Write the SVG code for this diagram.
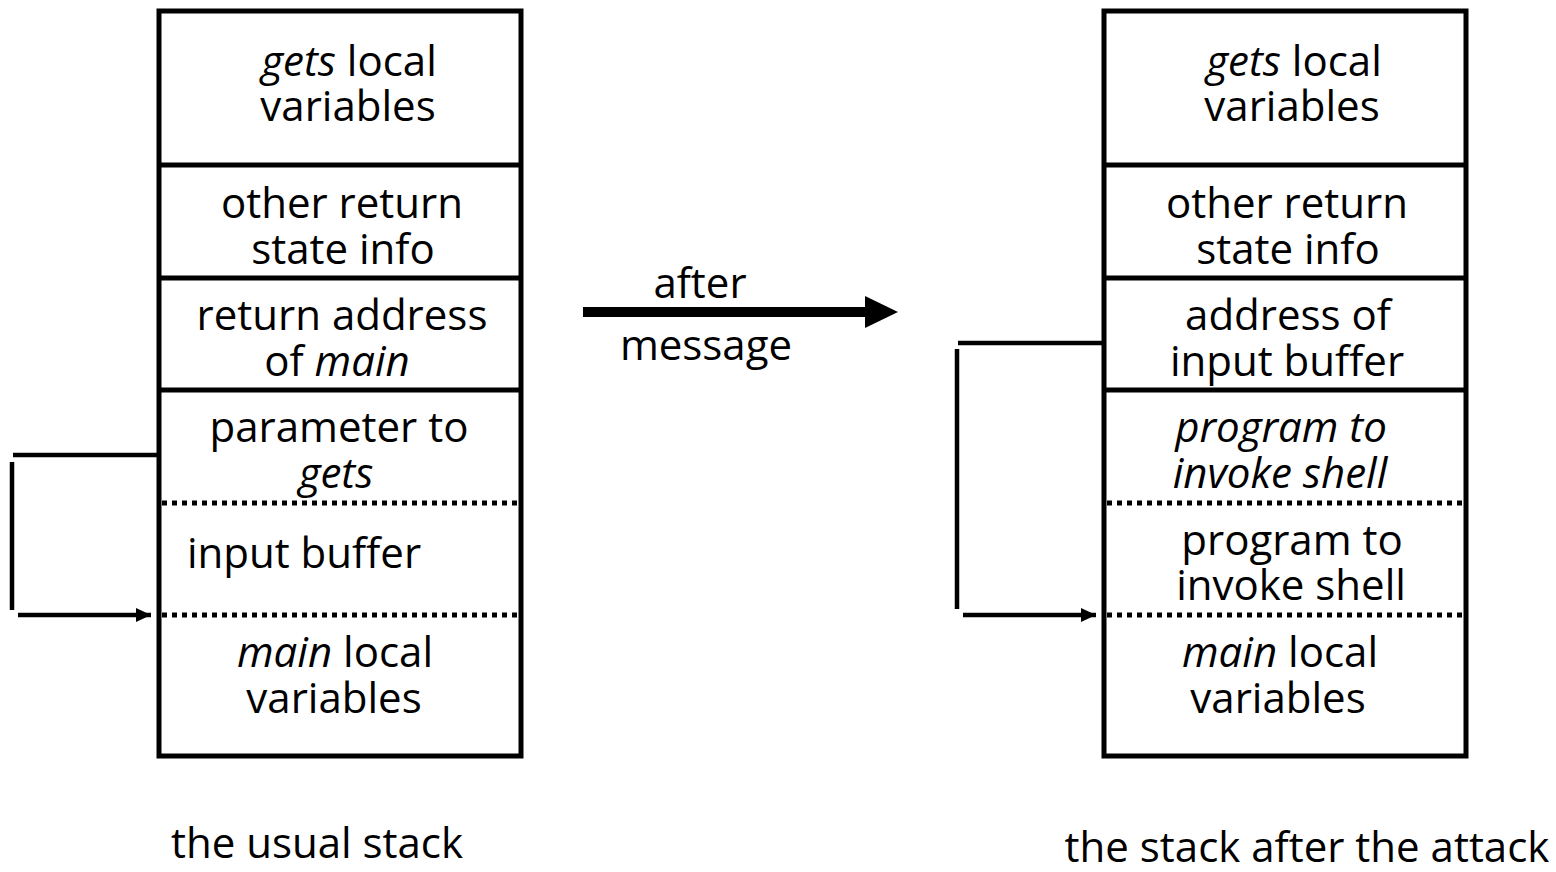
<svg xmlns="http://www.w3.org/2000/svg" width="1556" height="872" viewBox="0 0 1556 872">
  <style>
    .frame { fill: #fff; stroke: #000; stroke-width: 5; }
    .solid { stroke: #000; stroke-width: 5; }
    .dotted { stroke: #000; stroke-width: 5; stroke-dasharray: 5 5; }
    .wire { stroke: #000; stroke-width: 4.5; fill: none; }
    .lbl { font-family: "Open Sans", "Liberation Sans", sans-serif; font-size: 42px; fill: #000; text-anchor: middle; }
    .it { font-style: italic; }
  </style>
  <defs>
    <marker id="tip" markerUnits="userSpaceOnUse" markerWidth="16" markerHeight="16" refX="15" refY="7" orient="auto">
      <path d="M0,0 L15,7 L0,14 Z" fill="#000"/>
    </marker>
  </defs>
  <rect width="1556" height="872" fill="#fff"/>

  <!-- usual stack -->
  <g id="stack-usual">
    <rect class="frame" x="159" y="11" width="362" height="745"/>
    <line class="solid" x1="159" y1="165" x2="521" y2="165"/>
    <line class="solid" x1="159" y1="278" x2="521" y2="278"/>
    <line class="solid" x1="159" y1="390" x2="521" y2="390"/>
    <line class="dotted" x1="162" y1="503" x2="521" y2="503"/>
    <line class="dotted" x1="162" y1="615" x2="521" y2="615"/>
  </g>
  <g id="usual-gets-locals">
    <text class="lbl"><tspan x="349" y="76"><tspan class="it">gets</tspan> local</tspan><tspan x="348" y="121">variables</tspan></text>
  </g>
  <g id="usual-return-state">
    <text class="lbl"><tspan x="342" y="218">other return</tspan><tspan x="343" y="264">state info</tspan></text>
  </g>
  <g id="usual-return-address">
    <text class="lbl"><tspan x="342" y="330">return address</tspan><tspan x="337" y="376">of <tspan class="it">main</tspan></tspan></text>
  </g>
  <g id="usual-parameter">
    <text class="lbl"><tspan x="339" y="442">parameter to</tspan><tspan class="it" x="336" y="488">gets</tspan></text>
  </g>
  <g id="usual-input-buffer">
    <text class="lbl" x="304" y="568">input buffer</text>
  </g>
  <g id="usual-main-locals">
    <text class="lbl"><tspan x="335" y="667"><tspan class="it">main</tspan> local</tspan><tspan x="334" y="713">variables</tspan></text>
  </g>
  <text class="lbl" x="317" y="858">the usual stack</text>

  <!-- stack after the attack -->
  <g id="stack-attacked">
    <rect class="frame" x="1104" y="11" width="362" height="745"/>
    <line class="solid" x1="1104" y1="165" x2="1466" y2="165"/>
    <line class="solid" x1="1104" y1="278" x2="1466" y2="278"/>
    <line class="solid" x1="1104" y1="390" x2="1466" y2="390"/>
    <line class="dotted" x1="1107" y1="503" x2="1466" y2="503"/>
    <line class="dotted" x1="1107" y1="615" x2="1466" y2="615"/>
  </g>
  <g id="attacked-gets-locals">
    <text class="lbl"><tspan x="1294" y="76"><tspan class="it">gets</tspan> local</tspan><tspan x="1292" y="121">variables</tspan></text>
  </g>
  <g id="attacked-return-state">
    <text class="lbl"><tspan x="1287" y="218">other return</tspan><tspan x="1288" y="264">state info</tspan></text>
  </g>
  <g id="attacked-address">
    <text class="lbl"><tspan x="1288" y="330">address of</tspan><tspan x="1287" y="376">input buffer</tspan></text>
  </g>
  <g id="attacked-program-italic">
    <text class="lbl it"><tspan x="1281" y="442">program to</tspan><tspan x="1280" y="488">invoke shell</tspan></text>
  </g>
  <g id="attacked-program">
    <text class="lbl"><tspan x="1292" y="555">program to</tspan><tspan x="1291" y="600">invoke shell</tspan></text>
  </g>
  <g id="attacked-main-locals">
    <text class="lbl"><tspan x="1280" y="667"><tspan class="it">main</tspan> local</tspan><tspan x="1278" y="713">variables</tspan></text>
  </g>
  <text class="lbl" x="1307" y="862">the stack after the attack</text>

  <!-- transition arrow -->
  <g id="transition">
    <line x1="583" y1="312" x2="866" y2="312" stroke="#000" stroke-width="10"/>
    <polygon points="865,296 898,312 865,328" fill="#000"/>
    <text class="lbl" x="700" y="298">after</text>
    <text class="lbl" x="706" y="360">message</text>
  </g>

  <!-- pointer connectors -->
  <g id="connectors">
    <line class="wire" x1="13" y1="455" x2="157" y2="455"/>
    <line class="wire" x1="12" y1="462" x2="12" y2="610"/>
    <line class="wire" x1="18" y1="615" x2="151" y2="615" marker-end="url(#tip)"/>
    <line class="wire" x1="958" y1="343" x2="1102" y2="343"/>
    <line class="wire" x1="957" y1="349" x2="957" y2="609"/>
    <line class="wire" x1="963" y1="615" x2="1096" y2="615" marker-end="url(#tip)"/>
  </g>
</svg>
